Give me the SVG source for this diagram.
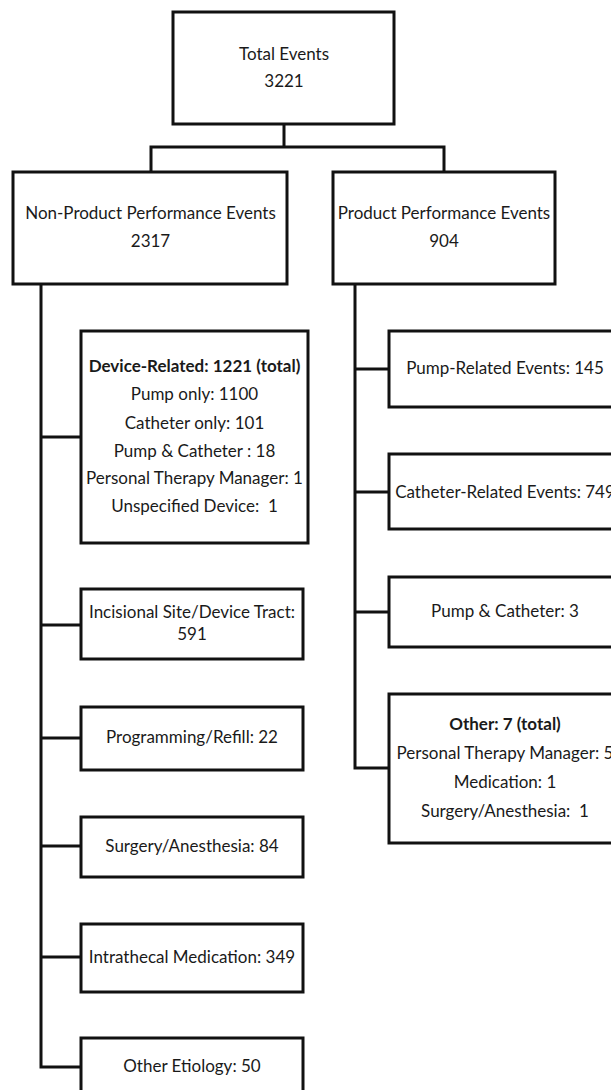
<svg xmlns="http://www.w3.org/2000/svg" width="611" height="1090" viewBox="0 0 611 1090">
<style>
.box{fill:#fff;stroke:#111;stroke-width:3}
.con{fill:none;stroke:#111;stroke-width:3;stroke-linejoin:miter}
text{font-family:Lato,"Open Sans","Liberation Sans",sans-serif;font-size:17px;fill:#1a1a1a;text-anchor:middle;white-space:pre}
.b{font-weight:bold}
</style>
<rect width="611" height="1090" fill="#fff"/>
<g id="connectors">
<path class="con" d="M284,124 V147 M151,171 V147 H444 V171"/>
<path class="con" d="M41,284 V1067 H81"/>
<path class="con" d="M41,437 H81 M41,625 H81 M41,738 H81 M41,846 H81 M41,957 H81"/>
<path class="con" d="M355,284 V768 H389"/>
<path class="con" d="M355,369 H389 M355,492 H389 M355,612 H389"/>
</g>
<g id="total"><rect class="box" x="173" y="12" width="221" height="112"/><text x="284" y="60">Total Events</text><text x="284" y="87">3221</text></g>
<g id="nonproduct"><rect class="box" x="13" y="172" width="274" height="112"/><text x="150.5" y="219">Non-Product Performance Events</text><text x="150.5" y="247">2317</text></g>
<g id="product"><rect class="box" x="333" y="172" width="222" height="112"/><text x="444" y="219">Product Performance Events</text><text x="444" y="247">904</text></g>
<g id="device"><rect class="box" x="81" y="331" width="227" height="212"/>
<text class="b" x="194.5" y="372">Device-Related: 1221 (total)</text>
<text x="194.5" y="400">Pump only: 1100</text>
<text x="194.5" y="429">Catheter only: 101</text>
<text x="194.5" y="457">Pump &amp; Catheter : 18</text>
<text x="194.5" y="484">Personal Therapy Manager: 1</text>
<text x="194.5" y="512" xml:space="preserve">Unspecified Device:  1</text></g>
<g id="incisional"><rect class="box" x="81" y="589" width="222" height="70"/><text x="192" y="618">Incisional Site/Device Tract:</text><text x="192" y="640">591</text></g>
<g id="programming"><rect class="box" x="81" y="707" width="222" height="63"/><text x="192" y="743">Programming/Refill: 22</text></g>
<g id="surgery"><rect class="box" x="81" y="817" width="222" height="60"/><text x="192" y="852">Surgery/Anesthesia: 84</text></g>
<g id="intrathecal"><rect class="box" x="81" y="924" width="222" height="68"/><text x="192" y="963">Intrathecal Medication: 349</text></g>
<g id="otheretiology"><rect class="box" x="81" y="1038" width="222" height="70"/><text x="192" y="1072">Other Etiology: 50</text></g>
<g id="pump"><rect class="box" x="389" y="331" width="232" height="76"/><text x="505" y="374">Pump-Related Events: 145</text></g>
<g id="catheter"><rect class="box" x="389" y="454" width="232" height="75"/><text x="505" y="498">Catheter-Related Events: 749</text></g>
<g id="pumpcath"><rect class="box" x="389" y="577" width="232" height="70"/><text x="505" y="617">Pump &amp; Catheter: 3</text></g>
<g id="other"><rect class="box" x="389" y="694" width="232" height="149"/>
<text class="b" x="505" y="730">Other: 7 (total)</text>
<text x="505" y="759">Personal Therapy Manager: 5</text>
<text x="505" y="788">Medication: 1</text>
<text x="505" y="817" xml:space="preserve">Surgery/Anesthesia:  1</text></g>
</svg>
